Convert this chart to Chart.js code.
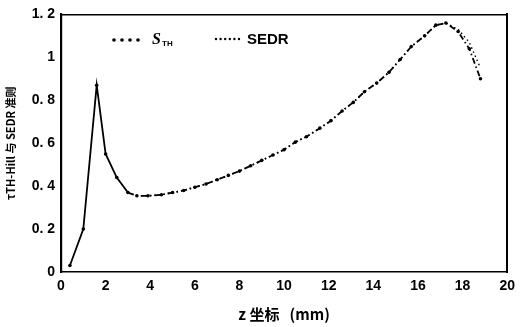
<!DOCTYPE html>
<html>
<head>
<meta charset="utf-8">
<script src="https://cdn.jsdelivr.net/npm/chart.js@4"></script>
<style>
    html, body { margin: 0; padding: 0; background: #fff; }
    #wrap { width: 521px; height: 327px; }
</style>
</head>
<body>
<div id="wrap"><canvas id="chart" width="521" height="327"></canvas></div>
<script>
// Data
const zTh = [0.4, 1.0, 1.6, 2.0, 2.5, 3.0, 3.4, 3.9, 4.5, 5.0, 5.5, 6.0, 6.5, 7.0, 7.5, 8.0, 8.5, 9.0, 9.5, 10.0,
    10.5, 11.0, 11.6, 12.1, 12.6, 13.1, 13.6, 14.15, 14.7, 15.2, 15.7, 16.3, 16.8, 17.25, 17.8, 18.3, 18.8];
const sTh = [0.03, 0.2, 0.87, 0.55, 0.44, 0.37, 0.355, 0.355, 0.36, 0.37, 0.38, 0.395, 0.41, 0.43, 0.45, 0.47, 0.495, 0.52, 0.545, 0.57,
    0.605, 0.63, 0.67, 0.705, 0.75, 0.79, 0.84, 0.88, 0.93, 0.99, 1.05, 1.1, 1.15, 1.16, 1.12, 1.04, 0.90];
const zSedr = [3.0, 3.4, 3.9, 4.5, 5.0, 5.5, 6.0, 6.5, 7.0, 7.5, 8.0, 8.5, 9.0, 9.5, 10.0,
    10.5, 11.0, 11.6, 12.1, 12.6, 13.1, 13.6, 14.15, 14.7, 15.2, 15.7, 16.3, 16.8, 17.25, 17.8, 18.3, 18.8];
const sedr = [0.37, 0.355, 0.355, 0.36, 0.37, 0.38, 0.395, 0.41, 0.43, 0.45, 0.47, 0.495, 0.52, 0.545, 0.57,
    0.605, 0.63, 0.67, 0.705, 0.75, 0.79, 0.84, 0.88, 0.93, 0.99, 1.05, 1.1, 1.15, 1.16, 1.13, 1.07, 0.95];
const yTickLabels = { 0: '0', 0.2: '0. 2', 0.4: '0. 4', 0.6: '0. 6', 0.8: '0. 8', 1: '1', 1.2: '1. 2' };

const tickFont = { family: 'Liberation Sans', size: 14, weight: 'bold' };

// Legend drawn inside the plot, near the top
const innerLegend = {
    id: 'innerLegend',
    afterDraw(c) {
        const ctx = c.ctx;
        const y = 40;
        ctx.save();
        ctx.fillStyle = '#000';
        // S_TH marker: four dots
        for (let i = 0; i < 4; i++) {
            ctx.beginPath();
            ctx.arc(114 + i * 8, y, 1.8, 0, Math.PI * 2);
            ctx.fill();
        }
        ctx.textBaseline = 'middle';
        ctx.font = 'italic bold 16px "Liberation Serif"';
        ctx.fillText('S', 152, y);
        ctx.font = 'bold 8px "Liberation Sans"';
        ctx.fillText('TH', 162, y + 4);
        // SEDR marker: six small dots
        for (let i = 0; i < 6; i++) {
            ctx.beginPath();
            ctx.arc(216 + i * 4.6, y - 1, 1.2, 0, Math.PI * 2);
            ctx.fill();
        }
        ctx.font = 'bold 15px "Liberation Sans"';
        ctx.fillText('SEDR', 247, y);
        ctx.restore();
    }
};

const ctx = document.getElementById('chart').getContext('2d');
const chart = new Chart(ctx, {
    type: 'line',
    data: {
        datasets: [{
            label: 'STH',
            data: zTh.map((x, i) => ({ x: x, y: sTh[i] })),
            borderColor: '#000',
            backgroundColor: '#000',
            borderWidth: 1.8,
            pointRadius: 1.8,
            pointBorderWidth: 0,
            tension: 0,
            segment: {
                borderDash: s => s.p0.parsed.x >= 3 ? [6, 3, 1.5, 3] : undefined
            }
        }, {
            label: 'SEDR',
            data: zSedr.map((x, i) => ({ x: x, y: sedr[i] })),
            borderColor: '#000',
            borderWidth: 1.4,
            borderDash: [1.5, 3],
            pointRadius: 0,
            tension: 0
        }]
    },
    options: {
        responsive: false,
        animation: false,
        layout: { padding: 0 },
        plugins: {
            legend: { display: false },
            tooltip: { enabled: false }
        },
        scales: {
            x: {
                type: 'linear',
                min: 0,
                max: 20,
                afterFit: s => { s.height = 55; },
                grid: { display: false, drawTicks: false },
                border: { display: true, color: '#000', width: 1.5, dash: [6, 3, 2, 3] },
                ticks: { stepSize: 2, color: '#000', font: tickFont, padding: 6, maxRotation: 0 },
                title: {
                    display: true,
                    text: 'z 坐标   (mm)',
                    color: '#000',
                    font: { family: '"Noto Sans CJK SC", "Liberation Sans"', size: 15, weight: 'bold' },
                    padding: { top: 0 }
                }
            },
            x2: {
                type: 'linear',
                position: 'top',
                min: 0,
                max: 20,
                afterFit: s => { s.height = 8; },
                grid: { display: false, drawTicks: false },
                border: { display: true, color: '#000', width: 1.5, dash: [8, 3, 2, 3] },
                ticks: { display: false }
            },
            y: {
                min: 0,
                max: 1.2,
                afterFit: s => { s.width = 61; },
                grid: { display: false, drawTicks: false },
                border: { display: true, color: '#000', width: 2.2 },
                ticks: {
                    stepSize: 0.2,
                    color: '#000',
                    font: tickFont,
                    padding: 6,
                    callback: v => yTickLabels[Math.round(v * 10) / 10] ?? ''
                },
                title: {
                    display: true,
                    text: 'τTH-Hill 与 SEDR 准则',
                    color: '#000',
                    font: { family: '"Noto Sans CJK SC", "Liberation Sans"', size: 11, weight: 'bold' },
                    padding: { bottom: 2 }
                }
            },
            y2: {
                position: 'right',
                min: 0,
                max: 1.2,
                afterFit: s => { s.width = 9; },
                grid: { display: false, drawTicks: false },
                border: { display: true, color: '#000', width: 2 },
                ticks: { display: false }
            }
        }
    },
    plugins: [innerLegend]
});
</script>
</body>
</html>
